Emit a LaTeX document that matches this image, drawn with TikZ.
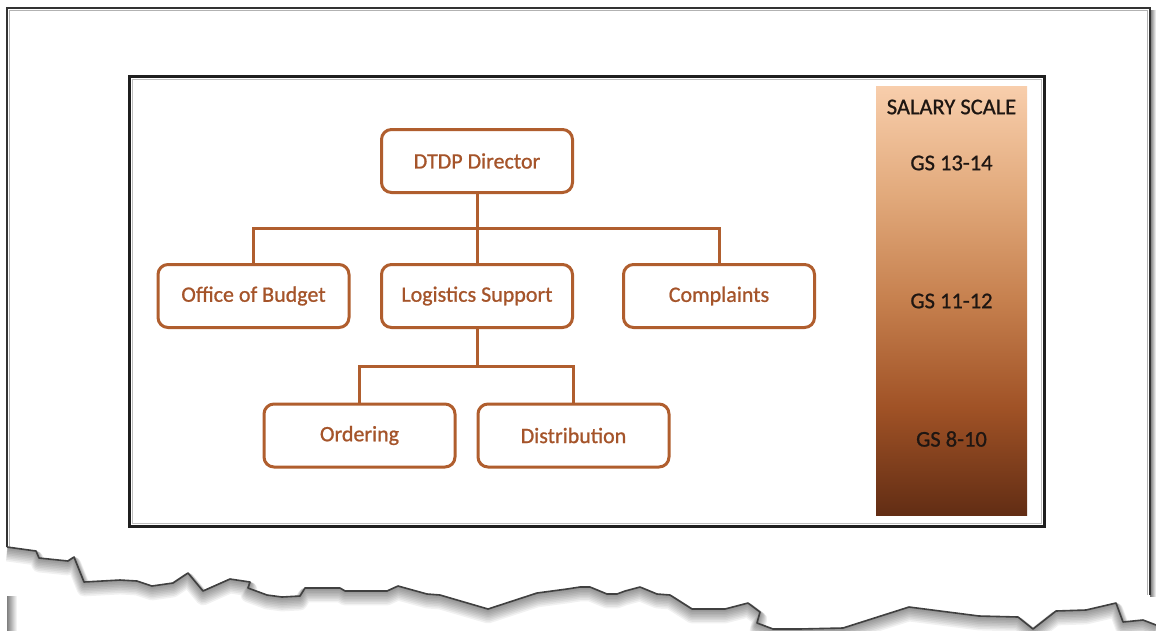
\documentclass[tikz,border=0pt]{standalone}
\usepackage{fontspec}
\setmainfont{Carlito}
\newfontfamily\chartfont[FakeBold=0.9]{Carlito}
\definecolor{brline}{RGB}{176,94,46}
\definecolor{brtext}{RGB}{165,84,42}
\definecolor{stop}{RGB}{248,206,172}
\definecolor{sa}{RGB}{226,170,124}
\definecolor{sb}{RGB}{198,128,78}
\definecolor{sc}{RGB}{160,82,38}
\definecolor{sbot}{RGB}{98,45,20}
\definecolor{bartext}{RGB}{30,22,18}
\pgfdeclareverticalshading{salaryshade}{100bp}{color(0bp)=(sbot); color(25bp)=(sbot); color(37.5bp)=(sc); color(50bp)=(sb); color(62.5bp)=(sa); color(75bp)=(stop); color(100bp)=(stop)}
\tikzset{
  orgbox/.style={draw=brline, line width=3pt, rounded corners=10pt, fill=white,
    minimum width=191pt, minimum height=63pt, inner sep=0pt,
    text=brtext, font=\chartfont\fontsize{22}{26}\selectfont},
  conn/.style={draw=brline, line width=3pt},
  scalelabel/.style={text=bartext, font=\chartfont\fontsize{22.5}{26}\selectfont, inner sep=0pt},
  pageline/.style={draw=black!80, line width=1.6pt},
  tornshadow/.style={draw=black, opacity=0.055, line join=round},
  tornline/.style={draw=black!75, line width=1.6pt, line join=round}
}
\begin{document}
\begin{tikzpicture}[x=1pt,y=-1pt]
\useasboundingbox (0,0) rectangle (1156,630);
\fill[white] (0,0) rectangle (1156,630);
% page shadow on right
\shade[left color=black!55, right color=white] (1150,10) rectangle (1156,596);
% lower strip left edge
\shade[left color=black!50, right color=white] (7,596) rectangle (17,630);
% torn edge shadow
\foreach \k in {1,...,9}{
\draw[tornshadow, line width=\k*1.6pt, transform canvas={yshift=-\k*0.8pt}] (7,547) -- (36,551) -- (39,558) -- (68,561) -- (74,557) -- (84,582) -- (120,580) -- (137,581) -- (152,586) -- (173,583) -- (188,573) -- (203,591) -- (230,579) -- (250,582) -- (248,588) -- (267,595) -- (282,597) -- (300,596) -- (305,588) -- (340,588) -- (345,591) -- (387,591) -- (398,586) -- (427,594) -- (440,595) -- (488,609) -- (537,593) -- (567,589) -- (580,587) -- (590,587) -- (607,594) -- (617,594) -- (625,591) -- (640,587) -- (657,594) -- (670,595) -- (692,609) -- (725,609) -- (748,603) -- (760,612) -- (757,623) -- (773,629) -- (799,629) -- (843,628) -- (909,607) -- (979,616) -- (1018,617) -- (1033,629) -- (1056,611) -- (1086,610) -- (1116,603) -- (1123,622) -- (1143,620) -- (1156,625);
}
% page outline
\draw[pageline] (7,547) -- (7,8) -- (1150,8) -- (1150,595);
\draw[black!30, line width=0.8pt] (9.5,547) -- (9.5,10.5) -- (1147.5,10.5) -- (1147.5,595);
\draw[tornline] (7,547) -- (36,551) -- (39,558) -- (68,561) -- (74,557) -- (84,582) -- (120,580) -- (137,581) -- (152,586) -- (173,583) -- (188,573) -- (203,591) -- (230,579) -- (250,582) -- (248,588) -- (267,595) -- (282,597) -- (300,596) -- (305,588) -- (340,588) -- (345,591) -- (387,591) -- (398,586) -- (427,594) -- (440,595) -- (488,609) -- (537,593) -- (567,589) -- (580,587) -- (590,587) -- (607,594) -- (617,594) -- (625,591) -- (640,587) -- (657,594) -- (670,595) -- (692,609) -- (725,609) -- (748,603) -- (760,612) -- (757,623) -- (773,629) -- (799,629) -- (843,628) -- (909,607) -- (979,616) -- (1018,617) -- (1033,629) -- (1056,611) -- (1086,610) -- (1116,603) -- (1123,622) -- (1143,620) -- (1156,625);
% black frame
\draw[black!88, line width=3pt] (129.5,76.5) rectangle (1044.5,526.5);
\draw[black!25, line width=0.8pt] (132.5,79.5) rectangle (1041.5,523.5);
% salary bar
\shade[shading=salaryshade] (876,86) rectangle (1027,515);
\node[scalelabel] (sal) at (951.5,107) {SALARY SCALE};
\node[scalelabel] (g1) at (951.5,163) {GS 13-14};
\node[scalelabel] (g2) at (951.5,301) {GS 11-12};
\node[scalelabel] (g3) at (951.5,439) {GS 8-10};
% org chart
\node[orgbox] (dir) at (477,161) {DTDP Director};
\node[orgbox] (bud) at (253.5,296) {Office of Budget};
\node[orgbox] (log) at (477,296) {Logistics Support};
\node[orgbox] (comp) at (719,296) {Complaints};
\node[orgbox] (ord) at (359.5,435.5) {Ordering};
\node[orgbox] (dist) at (573.5,435.5) {Distribution};
\coordinate (j1) at (477,228);
\coordinate (j2) at (477,366);
\draw[conn] (dir.south) -- (j1);
\draw[conn] (bud.north) |- (j1) -| (comp.north);
\draw[conn] (j1) -- (log.north);
\draw[conn] (log.south) -- (j2);
\draw[conn] (ord.north) |- (j2) -| (dist.north);
\end{tikzpicture}
\end{document}
